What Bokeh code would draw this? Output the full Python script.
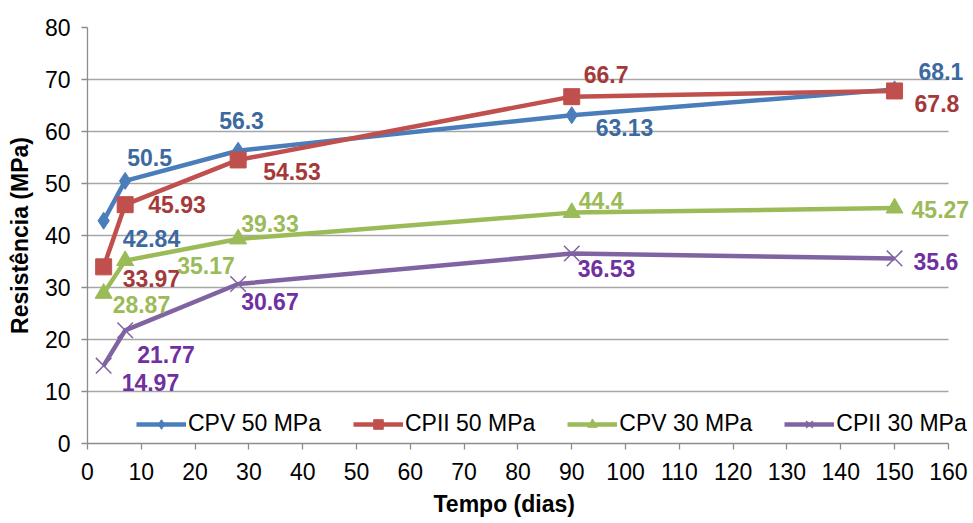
from bokeh.plotting import figure
from bokeh.models import (ColumnDataSource, Legend, LegendItem, SingleIntervalTicker, Range1d,
                          LabelSet, Title)
from bokeh.core.properties import value
from bokeh.embed import file_html
from bokeh.resources import INLINE

# Compressive strength (MPa) by curing age (days)
days = [3, 7, 28, 90, 150]
cpv50 = [42.84, 50.5, 56.3, 63.13, 68.1]
cpii50 = [33.97, 45.93, 54.53, 66.7, 67.8]
cpv30 = [28.87, 35.17, 39.33, 44.4, 45.27]
cpii30 = [14.97, 21.77, 30.67, 36.53, 35.6]
series_names = ["CPV 50 MPa", "CPII 50 MPa", "CPV 30 MPa", "CPII 30 MPa"]

FONT = "Liberation Sans"
FS = "23px"

# per-series styling: line colour, label colour, marker, marker size
styles = [
    dict(color="#4A7EBB", label_color="#3B69A0", marker="diamond", size=17, lw=0),
    dict(color="#C0504D", label_color="#A5393A", marker="square", size=16, lw=0),
    dict(color="#9BBB59", label_color="#9BBB59", marker="triangle", size=17, lw=0),
    dict(color="#8064A2", label_color="#7030A0", marker="x", size=22, lw=1.5),
]

# data label offsets (pixels, right / down) from each point
label_dx = [
    [19, 2, -19, 24, 24],
    [19, 23, 25, 12, 20],
    [9, 52, 3, 7, 17],
    [18, 12, 3, 6, 19],
]
label_dy = [
    [18, -23, -30, 12, -18],
    [12, 0, 12, -22, 13],
    [11, 5, -15, -12, 1],
    [17, 24, 17, 15, 3],
]

# the frame runs a little past 160 days so the right-hand labels have room;
# axis line and grid lines stop at 160
p = figure(
    width=973, height=523,
    x_range=Range1d(0, 164.3), y_range=Range1d(0, 80),
    output_backend="svg", toolbar_location=None,
    min_border_left=87, min_border_right=2, min_border_top=27, min_border_bottom=80,
)
p.outline_line_color = None
p.background_fill_color = "white"

# axes
for ax in (p.xaxis[0], p.yaxis[0]):
    ax.ticker = SingleIntervalTicker(interval=10)
    ax.axis_line_color = "#8C8C8C"
    ax.axis_line_width = 1.3
    ax.major_tick_line_color = "#8C8C8C"
    ax.major_tick_line_width = 1.3
    ax.major_tick_out = 6
    ax.major_tick_in = 0
    ax.minor_tick_line_color = None
    ax.major_label_text_font = FONT
    ax.major_label_text_font_size = FS
    ax.major_label_text_color = "#000000"
    ax.axis_label_text_font = FONT
    ax.axis_label_text_font_size = FS
    ax.axis_label_text_font_style = "bold"
    ax.axis_label_text_color = "#000000"
    ax.axis_label_text_line_height = 1.0
    ax.major_label_text_line_height = 1.0

p.xaxis.bounds = (0, 160)
p.yaxis.axis_label = "Resistência (MPa)"
p.xaxis.major_label_standoff = 13
p.yaxis.major_label_standoff = 11
p.yaxis.axis_label_standoff = 9

# x-axis title as a title block under the axis
p.add_layout(Title(text="Tempo (dias)", align="left", offset=346, standoff=12,
                   text_font=FONT, text_font_size=FS, text_font_style="bold",
                   text_color="#000000", text_line_height=1.0), "below")

p.xgrid.grid_line_color = None
p.ygrid.grid_line_color = "#A6A6A6"
p.ygrid.grid_line_width = 1.3
p.ygrid.cross_bounds = (0, 160)

all_series = [cpv50, cpii50, cpv30, cpii30]
legend_items = []
label_sources = []
for name, vals, st, dx, dy in zip(series_names, all_series, styles, label_dx, label_dy):
    src = ColumnDataSource(dict(x=days, y=vals, txt=[f"{v:g}" for v in vals],
                                dx=dx, dy=[-d for d in dy]))
    ln = p.line("x", "y", source=src, line_color=st["color"], line_width=4.5)
    if st["marker"] == "x":
        mk = p.scatter("x", "y", source=src, marker="x", size=st["size"],
                       line_color=st["color"], line_width=st["lw"])
    else:
        mk = p.scatter("x", "y", source=src, marker=st["marker"], size=st["size"],
                       fill_color=st["color"], line_color=st["color"])
    legend_items.append(LegendItem(label=name, renderers=[ln, mk]))
    label_sources.append((src, st["label_color"]))

# value labels on top of all series
for src, col in label_sources:
    p.add_layout(LabelSet(x="x", y="y", text="txt", source=src, x_offset="dx", y_offset="dy",
                          text_font=value(FONT), text_font_size=value(FS),
                          text_font_style="bold",
                          text_color=col, text_align="left", text_baseline="middle"))

legend = Legend(
    items=legend_items, orientation="horizontal", location=(49, 6),
    glyph_width=50, glyph_height=24, label_height=24, label_standoff=2,
    spacing=32, padding=0, margin=0,
    label_text_font=FONT, label_text_font_size=FS, label_text_color="#000000",
    border_line_color=None, background_fill_alpha=0,
)
p.add_layout(legend)

open("out.html", "w").write(file_html(p, INLINE))
